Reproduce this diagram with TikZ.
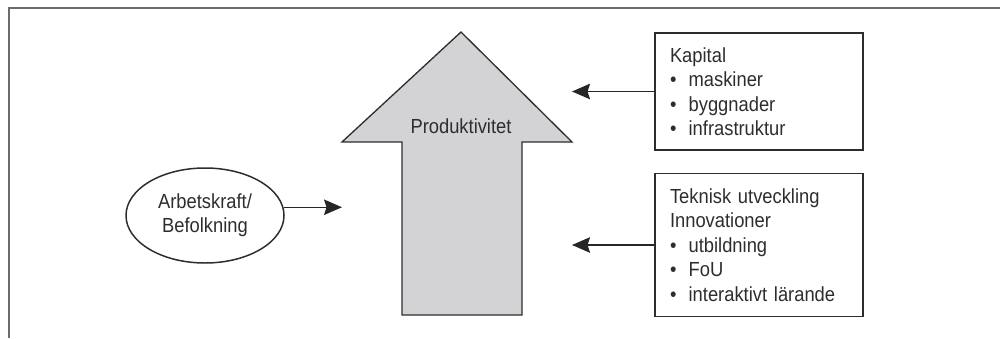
\documentclass[tikz,border=0pt]{standalone}
\usepackage{fontspec}
\setmainfont[FakeStretch=0.9]{Liberation Sans}
\usepackage{tikz}
\usetikzlibrary{shapes.geometric, arrows.meta, positioning, calc}
\definecolor{framegray}{RGB}{108,108,108}
\definecolor{arrowfill}{RGB}{211,211,213}
\definecolor{inkgray}{RGB}{45,45,45}
\newcommand{\listdot}{\textbullet\hspace{0.6em}}

\begin{document}
\begin{tikzpicture}[
      x=0.2mm, y=-0.2mm,
      node distance=4.4mm,
      txt/.style={font=\fontsize{11.6}{13.9}\selectfont, text=inkgray},
      box/.style={txt, draw=inkgray, line width=0.85pt, text width=35.6mm,
                  inner xsep=3mm, inner ysep=0pt, align=left},
      oval/.style={txt, ellipse, draw=inkgray, line width=0.85pt,
                   minimum width=31.6mm, minimum height=19mm, inner sep=0pt,
                   align=center},
      bigarrow/.style={draw=inkgray, line width=0.75pt, fill=arrowfill,
                       line join=miter},
      arrow/.style={-{Stealth[length=3.6mm, width=3.1mm, inset=0.5mm]},
                    draw=black!85, line width=0.85pt}
    ]
    \useasboundingbox (0,0) rectangle (1000,338);
    \draw[framegray, line width=0.4mm] (8.5,338) -- (8.5,7.5) -- (1000,7.5);
    \draw[bigarrow] (402,315) -- (402,142) -- (342,142) -- (461,32)
          -- (572,142) -- (522,142) -- (522,315) -- cycle;
    \node[txt] (prod) at (461,126) {Produktivitet};
    \coordinate (prodl) at (342,207);
    \coordinate (prodr) at (572,90);
    \node[box, minimum height=23.4mm] (kap) at (759,91.5)
          {Kapital\\\listdot maskiner\\\listdot byggnader\\\listdot infrastruktur};
    \node[box, minimum height=28.6mm, below=of kap] (tek)
          {Teknisk utveckling\\Innovationer\\\listdot utbildning\\\listdot FoU\\\listdot interaktivt lärande};
    \node[oval] (arb) at (205,215.5) {Arbetskraft/\\Befolkning};
    \draw[arrow] (arb.6) -- (arb.6 -| prodl);
    \draw[arrow] (kap.west) -- (kap.west -| prodr);
    \draw[arrow] (tek.west) -- (tek.west -| prodr);
  \end{tikzpicture}
\end{document}
